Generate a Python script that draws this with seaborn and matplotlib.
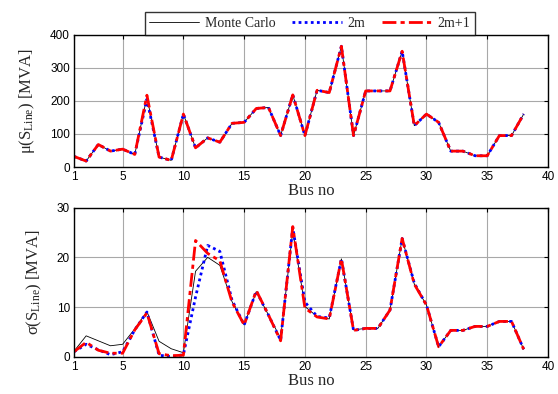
import numpy as np
import pandas as pd
import matplotlib
matplotlib.use("Agg")
import matplotlib.pyplot as plt
import seaborn as sns

bus = list(range(1, 39))
mu_mc = [32, 18, 68, 48, 54, 38, 212, 30, 20, 160, 58, 88, 75, 132, 135, 177, 180, 95, 218, 95,
         232, 225, 365, 95, 230, 230, 230, 350, 125, 160, 135, 48, 48, 34, 34, 95, 95, 160]
mu_2m = [32, 18, 68, 48, 54, 38, 205, 30, 20, 160, 58, 88, 75, 132, 135, 177, 180, 95, 218, 95,
         232, 225, 365, 95, 230, 230, 230, 350, 125, 160, 135, 48, 48, 34, 34, 95, 95, 160]
mu_2m1 = [32, 18, 68, 48, 54, 38, 217, 30, 20, 160, 58, 88, 75, 132, 135, 177, 180, 95, 218, 95,
          232, 225, 365, 95, 230, 230, 230, 350, 125, 160, 135, 48, 48, 34, 34, 95, 95, 160]
sd_mc = [1.1, 4.2, 3.2, 2.2, 2.5, 5.6, 9.1, 3.1, 1.6, 0.8, 17.2, 20.0, 18.4, 11.1, 6.4, 13.1, 8.4, 3.7, 25.3, 10.1,
         8.1, 7.6, 19.7, 5.4, 5.7, 5.7, 9.4, 23.8, 14.6, 10.4, 2.0, 5.3, 5.3, 6.1, 6.1, 7.1, 7.1, 1.5]
sd_2m = [1.0, 2.5, 1.4, 0.4, 1.0, 5.4, 9.0, 0.3, 0.0, 0.4, 12.0, 22.4, 21.2, 11.4, 6.4, 13.2, 8.4, 3.3, 26.0, 11.0,
         8.1, 7.8, 19.7, 5.3, 5.7, 5.7, 9.4, 23.8, 14.8, 10.4, 2.0, 5.3, 5.3, 6.1, 6.1, 7.1, 7.1, 1.5]
sd_2m1 = [1.0, 2.9, 1.3, 0.7, 0.7, 5.4, 8.8, 0.6, 0.2, 0.3, 23.4, 20.8, 19.3, 11.0, 6.4, 13.3, 8.4, 3.2, 26.2, 9.8,
          8.0, 7.6, 19.7, 5.3, 5.7, 5.7, 9.4, 23.8, 14.6, 10.4, 2.0, 5.3, 5.3, 6.1, 6.1, 7.1, 7.1, 1.5]
series_names = ["Monte Carlo", "2m", "2m+1"]
xticks = [1, 5, 10, 15, 20, 25, 30, 35, 40]

sns.set_style("white")
plt.rcParams["font.family"] = ["Liberation Sans", "DejaVu Sans"]
plt.rcParams["mathtext.fontset"] = "custom"
plt.rcParams["mathtext.rm"] = "Liberation Serif"
plt.rcParams["mathtext.it"] = "Liberation Serif:italic"

fig = plt.figure(figsize=(5.58, 3.94), dpi=100)
ax1 = fig.add_axes([74 / 558, 1 - 167 / 394, 474 / 558, 132.3 / 394])
ax2 = fig.add_axes([74 / 558, 1 - 356.7 / 394, 474 / 558, 149 / 394])

styles = [dict(color="black", lw=0.6, ls="-"),
          dict(color="#0000ff", lw=2.0, ls=(0, (1, 1.2))),
          dict(color="#ff0000", lw=2.0, ls=(0, (5, 1.5, 1.5, 1.5)))]

serif = ["Liberation Serif", "DejaVu Serif"]

for ax, data, ylim, yticks, ylabel in [
        (ax1, [mu_mc, mu_2m, mu_2m1], (0, 400), [0, 100, 200, 300, 400], "μ(S$_{\\mathrm{Line}}$) [MVA]"),
        (ax2, [sd_mc, sd_2m, sd_2m1], (0, 30), [0, 10, 20, 30], "σ(S$_{\\mathrm{Line}}$) [MVA]")]:
    for name, vals, st in zip(series_names, data, styles):
        df = pd.DataFrame({"bus": bus, "val": vals})
        sns.lineplot(data=df, x="bus", y="val", ax=ax, label=name, color=st["color"],
                     linewidth=st["lw"], linestyle=st["ls"], legend=False)
    ax.set_xlim(1, 40)
    ax.set_ylim(*ylim)
    ax.set_xticks(xticks)
    ax.set_yticks(yticks)
    ax.grid(True, color="#a8a8a8", lw=0.8)
    ax.tick_params(direction="in", length=3, top=True, right=True, labelsize=8.5, pad=3, colors="black")
    for s in ax.spines.values():
        s.set_color("black")
        s.set_linewidth(1.0)
    ax.set_xlabel("Bus no", family=serif, fontsize=12, labelpad=0)
    ax.set_ylabel(ylabel, family=serif, fontsize=12, labelpad=9)

handles, labels = ax1.get_legend_handles_labels()
leg = fig.legend(handles, labels, loc="lower center", ncol=3, bbox_to_anchor=(310 / 558, 1 - 35 / 394),
                 bbox_transform=fig.transFigure, frameon=True, fancybox=False, edgecolor="black",
                 prop={"family": serif, "size": 10}, handlelength=3.6, columnspacing=1.2,
                 borderpad=0.35, handletextpad=0.4, borderaxespad=0)
leg.get_frame().set_linewidth(1.0)

fig.savefig("out.png", dpi=100)
